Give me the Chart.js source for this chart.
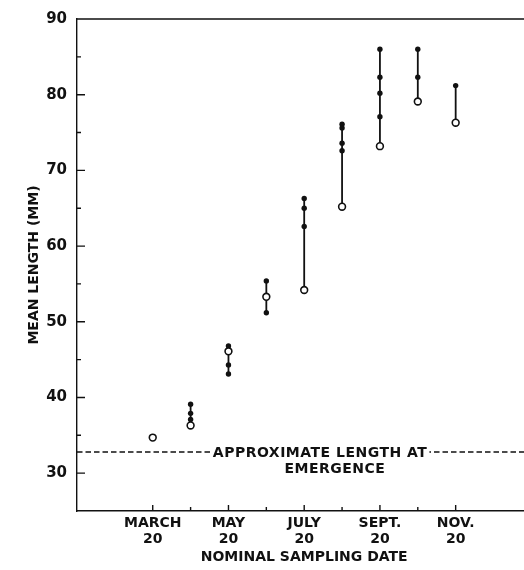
<!DOCTYPE html>
<html>
<head>
<meta charset="utf-8">
<script src="https://cdn.jsdelivr.net/npm/chart.js@4/dist/chart.umd.min.js"></script>
<style>
	html, body { margin: 0; padding: 0; background: #fff; overflow: hidden; }
	#grafico { position: relative; width: 537px; height: 570px; }
</style>
</head>
<body>
<div id="grafico"><canvas id="comprimentoMedio"></canvas></div>
<script>
// months counted from January 20 (1) ; March 20 = 3
var sampleMonths = [3, 4, 5, 6, 7, 8, 9, 10, 11];
var openMeans = [34.7, 36.3, 46.1, 53.3, 54.2, 65.2, 73.2, 79.1, 76.3];
var solidMeans = [
	[],
	[39.1, 37.9, 37.1],
	[46.8, 44.3, 43.1],
	[55.4, 51.2],
	[66.3, 65.0, 62.6],
	[76.1, 75.6, 73.6, 72.6],
	[86.0, 82.3, 80.2, 77.1],
	[86.0, 82.3],
	[81.2]
];
var emergenceLength = 32.8;

var xTickMonths = [3, 4, 5, 6, 7, 8, 9, 10, 11];
var xLabelMonths = [3, 5, 7, 9, 11];
var xLabels = [['MARCH', '20'], ['MAY', '20'], ['JULY', '20'], ['SEPT.', '20'], ['NOV.', '20']];
var yMajorTicks = [30, 40, 50, 60, 70, 80, 90];
var yMinorTicks = [35, 45, 55, 65, 75, 85];

var tinta = '#111';
var fonte = '"DejaVu Sans", sans-serif';

var pontosAbertos = sampleMonths.map(function(mes, i) {
	return { x: mes, y: openMeans[i] };
});

var pontosCheios = [];
solidMeans.forEach(function(valores, i) {
	valores.forEach(function(v) {
		pontosCheios.push({ x: sampleMonths[i], y: v });
	});
});

// one vertical bar per sample, from lowest to highest mean
var barras = [];
sampleMonths.forEach(function(mes, i) {
	var todos = solidMeans[i].concat([openMeans[i]]);
	if (todos.length < 2) return;
	barras.push({
		type: 'line',
		data: [{ x: mes, y: Math.min.apply(null, todos) }, { x: mes, y: Math.max.apply(null, todos) }],
		borderColor: tinta,
		borderWidth: 1.8,
		pointRadius: 0
	});
});

var marcasEixos = {
	id: 'marcasEixos',
	afterDraw: function(chart) {
		var ctx = chart.ctx;
		var area = chart.chartArea;
		var x = chart.scales.x;
		var y = chart.scales.y;
		ctx.save();
		ctx.strokeStyle = tinta;
		ctx.lineWidth = 1.4;
		ctx.beginPath();
		ctx.moveTo(area.left, area.top);
		ctx.lineTo(area.right, area.top);
		ctx.lineTo(area.right, area.bottom);
		yMajorTicks.forEach(function(v) {
			var py = y.getPixelForValue(v);
			ctx.moveTo(area.left, py);
			ctx.lineTo(area.left + 8, py);
		});
		yMinorTicks.forEach(function(v) {
			var py = y.getPixelForValue(v);
			ctx.moveTo(area.left, py);
			ctx.lineTo(area.left + 4, py);
		});
		xTickMonths.forEach(function(m) {
			var px = x.getPixelForValue(m);
			var comprimento = xLabelMonths.indexOf(m) >= 0 ? 6 : 4;
			ctx.moveTo(px, area.bottom);
			ctx.lineTo(px, area.bottom - comprimento);
		});
		ctx.stroke();
		ctx.restore();
	}
};

var rotuloEmergencia = {
	id: 'rotuloEmergencia',
	afterDatasetsDraw: function(chart) {
		var ctx = chart.ctx;
		var x = chart.scales.x;
		var y = chart.scales.y;
		var linha = y.getPixelForValue(emergenceLength);
		ctx.save();
		ctx.font = 'bold 14px ' + fonte;
		ctx.letterSpacing = '0.5px';
		ctx.textAlign = 'center';
		ctx.textBaseline = 'middle';
		var texto = 'APPROXIMATE LENGTH AT';
		var cx = x.getPixelForValue(7.42);
		var largura = ctx.measureText(texto).width;
		ctx.fillStyle = '#fff';
		ctx.fillRect(cx - largura / 2 - 2, linha - 3, largura + 4, 6);
		ctx.fillStyle = tinta;
		ctx.fillText(texto, cx, linha + 1);
		ctx.fillText('EMERGENCE', x.getPixelForValue(7.81), linha + 17);
		ctx.restore();
	}
};

var grafico = new Chart(document.getElementById('comprimentoMedio').getContext('2d'), {
	type: 'scatter',
	data: {
		datasets: [{
			data: pontosAbertos,
			pointRadius: 3.4,
			pointBackgroundColor: '#fff',
			pointBorderColor: tinta,
			pointBorderWidth: 1.6
		}, {
			data: pontosCheios,
			pointRadius: 2.7,
			pointBackgroundColor: tinta,
			pointBorderWidth: 0
		}].concat(barras).concat([{
			type: 'line',
			data: [{ x: 1, y: emergenceLength }, { x: 13, y: emergenceLength }],
			borderColor: tinta,
			borderWidth: 1.6,
			borderDash: [5.5, 3],
			pointRadius: 0
		}])
	},
	options: {
		responsive: true,
		maintainAspectRatio: false,
		animation: false,
		layout: { padding: { top: 15, right: 0, bottom: 0, left: 0 } },
		plugins: {
			legend: { display: false },
			tooltip: { enabled: false }
		},
		scales: {
			x: {
				type: 'linear',
				min: 1,
				max: 13,
				afterFit: function(scale) { scale.height = 59; },
				afterBuildTicks: function(scale) {
					scale.ticks = xLabelMonths.map(function(m) { return { value: m }; });
				},
				ticks: {
					autoSkip: false,
					maxRotation: 0,
					padding: 5,
					color: tinta,
					font: { family: fonte, size: 14, weight: 'bold', lineHeight: 1.1 },
					callback: function(valor) {
						return xLabels[xLabelMonths.indexOf(valor)];
					}
				},
				grid: { drawOnChartArea: false, drawTicks: false },
				border: { color: tinta, width: 1.4 },
				title: {
					display: true,
					text: 'NOMINAL SAMPLING DATE',
					color: tinta,
					font: { family: fonte, size: 14, weight: 'bold' },
					padding: { top: 0, bottom: 4 }
				}
			},
			y: {
				min: 25,
				max: 90,
				afterFit: function(scale) { scale.width = 77; },
				afterBuildTicks: function(scale) {
					scale.ticks = yMajorTicks.map(function(v) { return { value: v }; });
				},
				ticks: {
					padding: 10,
					color: tinta,
					font: { family: fonte, size: 15, weight: 'bold' }
				},
				grid: { drawOnChartArea: false, drawTicks: false },
				border: { color: tinta, width: 1.4 },
				title: {
					display: true,
					text: 'MEAN LENGTH (MM)',
					color: tinta,
					font: { family: fonte, size: 14, weight: 'bold' },
					padding: { top: 26, bottom: 0 }
				}
			}
		}
	},
	plugins: [rotuloEmergencia, marcasEixos]
});
</script>
</body>
</html>
